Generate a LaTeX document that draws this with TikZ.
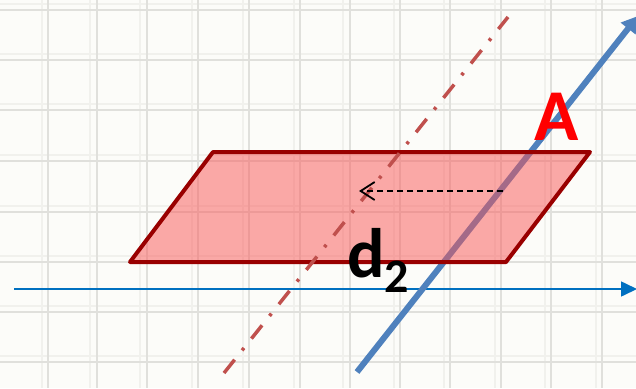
\documentclass[tikz,border=0pt]{standalone}
\usepackage{fontspec}
\setmainfont{Carlito}
\usetikzlibrary{arrows.meta}
\definecolor{bg}{RGB}{252,252,249}
\definecolor{gridc}{RGB}{224,224,220}
\definecolor{gridm}{RGB}{241,241,237}
\definecolor{thickblue}{RGB}{79,129,189}
\definecolor{thinblue}{RGB}{0,112,192}
\definecolor{ddred}{RGB}{192,80,77}
\definecolor{planeborder}{RGB}{153,0,0}
\definecolor{planefill}{RGB}{250,85,85}
\begin{document}
\begin{tikzpicture}[x=1pt,y=-1pt,
  gridline/.style={gridc,line width=1.8pt},
  gridminor/.style={gridm,line width=1.2pt},
  thickaxis/.style={thickblue,line width=6pt,-{Triangle[length=16pt,width=18pt]}},
  thinaxis/.style={thinblue,line width=1.6pt,-{Triangle[length=16pt,width=15pt]}},
  dashdot/.style={ddred,line width=3.5pt,dash pattern=on 17pt off 12pt on 3pt off 12pt},
  plane/.style={fill=planefill,fill opacity=0.5,draw=none},
  planeedge/.style={draw=planeborder,line width=4pt,line join=round},
  proj/.style={black,line width=1.3pt,dash pattern=on 6pt off 4pt,-{Straight Barb[length=14pt,width=18pt,line width=1.8pt]}},
  lbl/.style={inner sep=0pt,font=\bfseries}
]
\useasboundingbox (0,0) rectangle (636,388);
\fill[bg] (0,0) rectangle (636,388);
% grid
\foreach \x in {42,90,140,192,243,294,343,394,444,495,545,596}
  \draw[gridminor] (\x,0) -- (\x,388);
\foreach \y in {4,54,104,155,206,256,306,356}
  \draw[gridminor] (0,\y) -- (636,\y);
\foreach \x in {48,97,147,198,249,300,350,400,450,501,551,602}
  \draw[gridline] (\x,0) -- (\x,388);
\foreach \y in {10,60,110,161,212,262,312,362}
  \draw[gridline] (0,\y) -- (636,\y);
% coordinates
\coordinate (p1) at (130,262);
\coordinate (p2) at (213,152);
\coordinate (p3) at (590,152);
\coordinate (p4) at (506,262);
\coordinate (bs) at (357,372);
\coordinate (be) at (638,16);
\coordinate (hs) at (14,289);
\coordinate (he) at (637,289);
\coordinate (ds) at (224,373);
\coordinate (de) at (508,17);
\coordinate (qs) at (503,191);
\coordinate (qe) at (359,191);
% thin horizontal axis
\draw[thinaxis] (hs) -- (he);
% thick blue line
\draw[thickaxis] (bs) -- (be);
% plane
\fill[plane] (p1) -- (p2) -- (p3) -- (p4) -- cycle;
\draw[planeedge] (p1) -- (p2) -- (p3) -- (p4) -- cycle;
% dash-dot line
\draw[dashdot] (ds) -- (de);
% projection arrow
\draw[proj] (qs) -- (qe);
% labels
\node[lbl,text=red,font=\bfseries\fontsize{73}{73}\selectfont] (A) at (557,117) {A};
\node[lbl,anchor=base west,font=\bfseries\fontsize{70}{70}\selectfont] (d) at (347,277) {d\raisebox{-15pt}{\fontsize{48}{48}\selectfont 2}};
\end{tikzpicture}
\end{document}
